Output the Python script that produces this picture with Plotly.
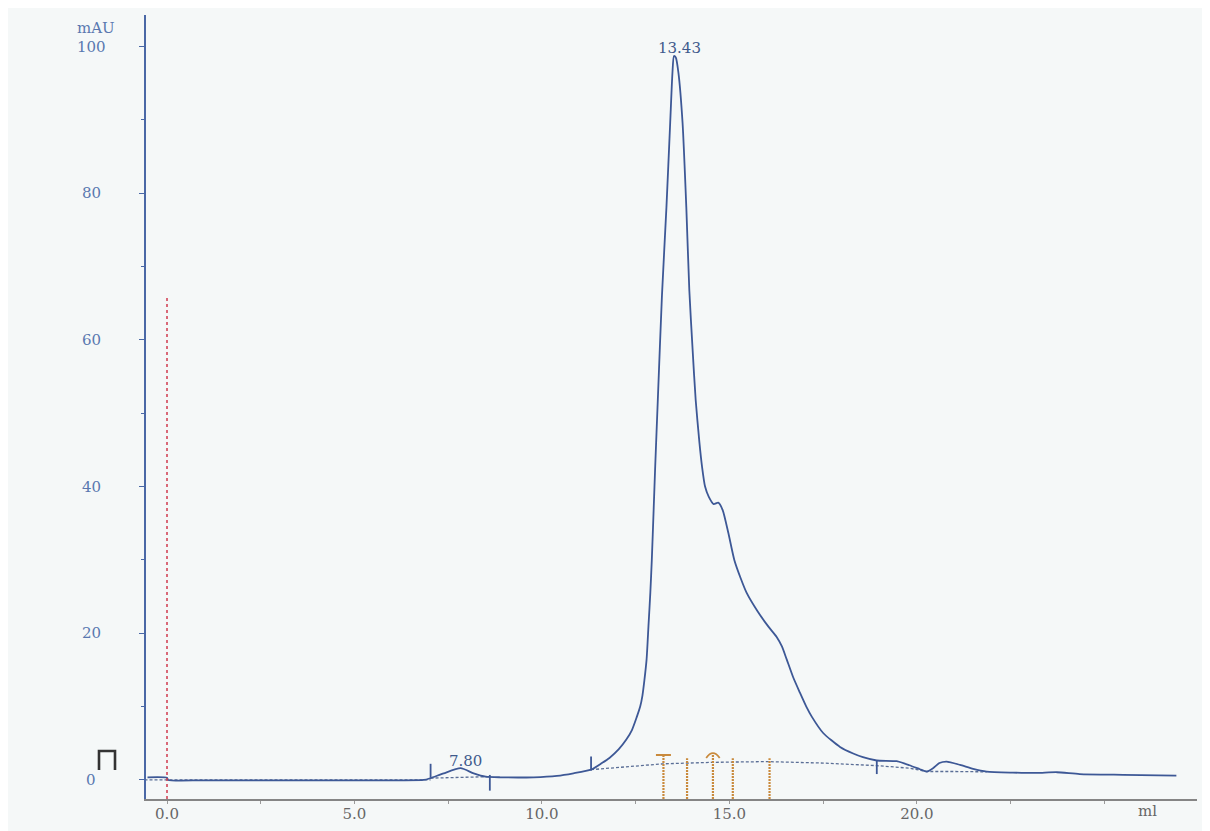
import plotly.graph_objects as go

# ---------------- data ----------------
x_ml = [-0.52, 0.0, 0.03, 1.0, 6.0, 6.85, 7.03, 7.38, 7.83, 8.18, 8.5, 8.89, 9.78, 10.4, 10.84,
        11.31, 11.6, 11.8, 12.05, 12.25, 12.4, 12.53, 12.62, 12.68, 12.73, 12.79, 12.84, 12.89,
        12.93, 12.98, 13.02, 13.09, 13.2, 13.32, 13.42, 13.48, 13.52, 13.57, 13.64, 13.75, 13.85,
        13.93, 14.02, 14.1, 14.2, 14.27, 14.35, 14.45, 14.58, 14.7, 14.82, 14.97, 15.13, 15.3,
        15.46, 15.75, 16.04, 16.26, 16.4, 16.53, 16.7, 16.88, 17.05, 17.2, 17.5, 17.95, 18.3,
        18.56, 18.93, 19.46, 19.8, 20.08, 20.26, 20.43, 20.6, 20.79, 21.15, 21.5, 21.86, 22.56,
        23.2, 23.73, 24.34, 25.5, 26.92]
y_mau = [0.36, 0.3, 0.0, -0.05, -0.05, 0.0, 0.25, 0.9, 1.6, 0.9, 0.45, 0.36, 0.36, 0.55, 0.9,
         1.4, 2.3, 3.0, 4.2, 5.5, 6.8, 8.6, 10.0, 11.5, 13.5, 16.4, 20.9, 25.5,
         30.0, 37.0, 42.7, 51.8, 66.0, 78.1, 89.6, 96.4, 98.7, 98.5, 96.4, 89.6, 78.1,
         66.8, 58.5, 51.8, 46.0, 42.7, 40.0, 38.6, 37.6, 37.8, 36.8, 33.7, 30.0, 27.5,
         25.5, 23.0, 20.9, 19.5, 18.2, 16.4, 14.0, 11.9, 10.0, 8.6, 6.4, 4.5, 3.6,
         3.1, 2.65, 2.55, 2.0, 1.46, 1.13, 1.6, 2.3, 2.5, 2.05, 1.5, 1.13, 1.0,
         0.95, 1.05, 0.8, 0.7, 0.6]

# integration baseline segments (None separates segments)
base_x = [-0.6, 7.03, None, 7.03, 8.61, None, 11.31, 13.24, 14.57, 16.0, 17.5, 18.93, 19.8, 20.26, 21.0, 21.86]
base_y = [0.0, 0.0, None, 0.25, 0.45, None, 1.4, 2.2, 2.4, 2.5, 2.3, 1.95, 1.6, 1.15, 1.15, 1.1]

# peak start/end marks: (x, y_from, y_to)
mark_x = [7.03, 8.61, 11.31, 18.93]
mark_y0 = [0.3, 0.68, 1.27, 0.8]
mark_y1 = [2.2, -1.46, 3.2, 2.7]

# fraction marks
frac_x = [13.24, 13.87, 14.56, 15.09, 16.07]
frac_top = [3.4, 2.95, 3.4, 2.95, 2.95]

# peak labels
peak_label_x = [13.66, 7.96]
peak_label_y = [99.8, 2.6]
peak_labels = ["13.43", "7.80"]

# injection mark position
inject_x = 0.0
inject_top = 66.0

# axes
x_tick_vals = [0, 2.5, 5, 7.5, 10, 12.5, 15, 17.5, 20, 22.5, 25]
x_tick_text = ["0.0", "", "5.0", "", "10.0", "", "15.0", "", "20.0", "", ""]
y_tick_vals = [0, 20, 40, 60, 80, 100]

X_RANGE = [-0.56, 27.47]
Y_RANGE = [-2.6, 104.3]

CURVE = "#3d5896"
YBLUE = "#5a78b0"
GREY = "#666666"
ORANGE = "#c98a3c"
SERIF = "DejaVu Serif, serif"
FS = 15

# page body has an 8px margin: compensate so the plot area sits where the reference has it
PAGE_OFF = 8
PLOT_L, PLOT_R, PLOT_T, PLOT_B = 146, 1197, 15, 799

fig = go.Figure()

fig.add_trace(go.Scatter(x=base_x, y=base_y, mode="lines",
                         line=dict(color="#5a6e96", width=1.3, dash="3px,2px"),
                         hoverinfo="skip", showlegend=False))
fig.add_trace(go.Scatter(x=x_ml, y=y_mau, mode="lines",
                         line=dict(color=CURVE, width=1.8, shape="spline", smoothing=0.6),
                         showlegend=False))

shapes = []
# injection (red dotted)
shapes.append(dict(type="line", xref="x", yref="y", x0=inject_x, x1=inject_x,
                   y0=Y_RANGE[0], y1=inject_top,
                   line=dict(color="#d03a4e", width=1.5, dash="dot")))
# peak marks
for xv, a, b in zip(mark_x, mark_y0, mark_y1):
    shapes.append(dict(type="line", xref="x", yref="y", x0=xv, x1=xv, y0=a, y1=b,
                       line=dict(color=CURVE, width=1.8)))
# fraction marks
for xv, t in zip(frac_x, frac_top):
    shapes.append(dict(type="line", xref="x", yref="y", x0=xv, x1=xv, y0=Y_RANGE[0], y1=t,
                       line=dict(color=ORANGE, width=2.2, dash="2px,1px")))
# caps on fraction marks 1 and 3
shapes.append(dict(type="line", xref="x", yref="y", x0=frac_x[0] - 0.2, x1=frac_x[0] + 0.2,
                   y0=frac_top[0], y1=frac_top[0], line=dict(color=ORANGE, width=2)))
shapes.append(dict(type="path", xref="x", yref="y",
                   path=f"M {frac_x[2]-0.18},{frac_top[2]-0.4} Q {frac_x[2]},{frac_top[2]+0.9} {frac_x[2]+0.18},{frac_top[2]-0.4}",
                   line=dict(color=ORANGE, width=1.8)))


def px_to_paper_x(px):
    return (px - PLOT_L) / float(PLOT_R - PLOT_L)


def py_to_paper_y(py):
    return (PLOT_B - py) / float(PLOT_B - PLOT_T)


# injection bracket symbol in left margin (paper coords)
bx1, bx2 = px_to_paper_x(99), px_to_paper_x(115)
by_top, by_bot = py_to_paper_y(751), py_to_paper_y(770)
shapes.append(dict(type="path", xref="paper", yref="paper",
                   path=f"M {bx1},{by_bot} L {bx1},{by_top} L {bx2},{by_top} L {bx2},{by_bot}",
                   line=dict(color="#333333", width=2.6)))

annotations = []
for xv, yv, t in zip(peak_label_x, peak_label_y, peak_labels):
    annotations.append(dict(x=xv, y=yv, xref="x", yref="y", text=t, showarrow=False,
                            xanchor="center", yanchor="middle",
                            font=dict(family=SERIF, size=FS, color="#3f5a8c")))
for v in y_tick_vals:
    annotations.append(dict(x=px_to_paper_x(91), y=v, xref="paper", yref="y", text=str(v),
                            showarrow=False, xanchor="center", yanchor="middle",
                            font=dict(family=SERIF, size=FS, color=YBLUE)))
annotations.append(dict(x=px_to_paper_x(75), y=py_to_paper_y(28), xref="paper", yref="paper",
                        text="mAU", showarrow=False, xanchor="left", yanchor="middle",
                        font=dict(family=SERIF, size=FS, color=YBLUE)))
annotations.append(dict(x=px_to_paper_x(1147), y=py_to_paper_y(811), xref="paper", yref="paper",
                        text="ml", showarrow=False, xanchor="center", yanchor="middle",
                        font=dict(family=SERIF, size=FS, color=GREY)))

W, H = 1210 - PAGE_OFF, 831 - PAGE_OFF
fig.update_layout(
    width=W, height=H,
    margin=dict(l=PLOT_L - PAGE_OFF, r=1210 - PLOT_R, t=PLOT_T - PAGE_OFF, b=831 - PLOT_B),
    paper_bgcolor="#f5f8f8", plot_bgcolor="#f5f8f8",
    shapes=shapes, annotations=annotations,
    xaxis=dict(range=X_RANGE, showgrid=False, zeroline=False, showline=True,
               linecolor="#858585", linewidth=2, tickmode="array",
               tickvals=x_tick_vals, ticktext=x_tick_text, ticks="outside",
               ticklen=3, tickcolor="#9a9a9a", tickwidth=1, ticklabelstandoff=-3,
               tickfont=dict(family=SERIF, size=FS, color=GREY)),
    yaxis=dict(range=Y_RANGE, showgrid=False, zeroline=False, showline=True,
               linecolor="#4a68a6", linewidth=2, tickmode="array", tickvals=y_tick_vals,
               ticks="outside", ticklen=5, tickcolor="#4a68a6", showticklabels=False,
               minor=dict(dtick=10, tick0=0, ticks="outside", ticklen=3, tickcolor="#4a68a6")),
)

fig.write_html("out.html")
